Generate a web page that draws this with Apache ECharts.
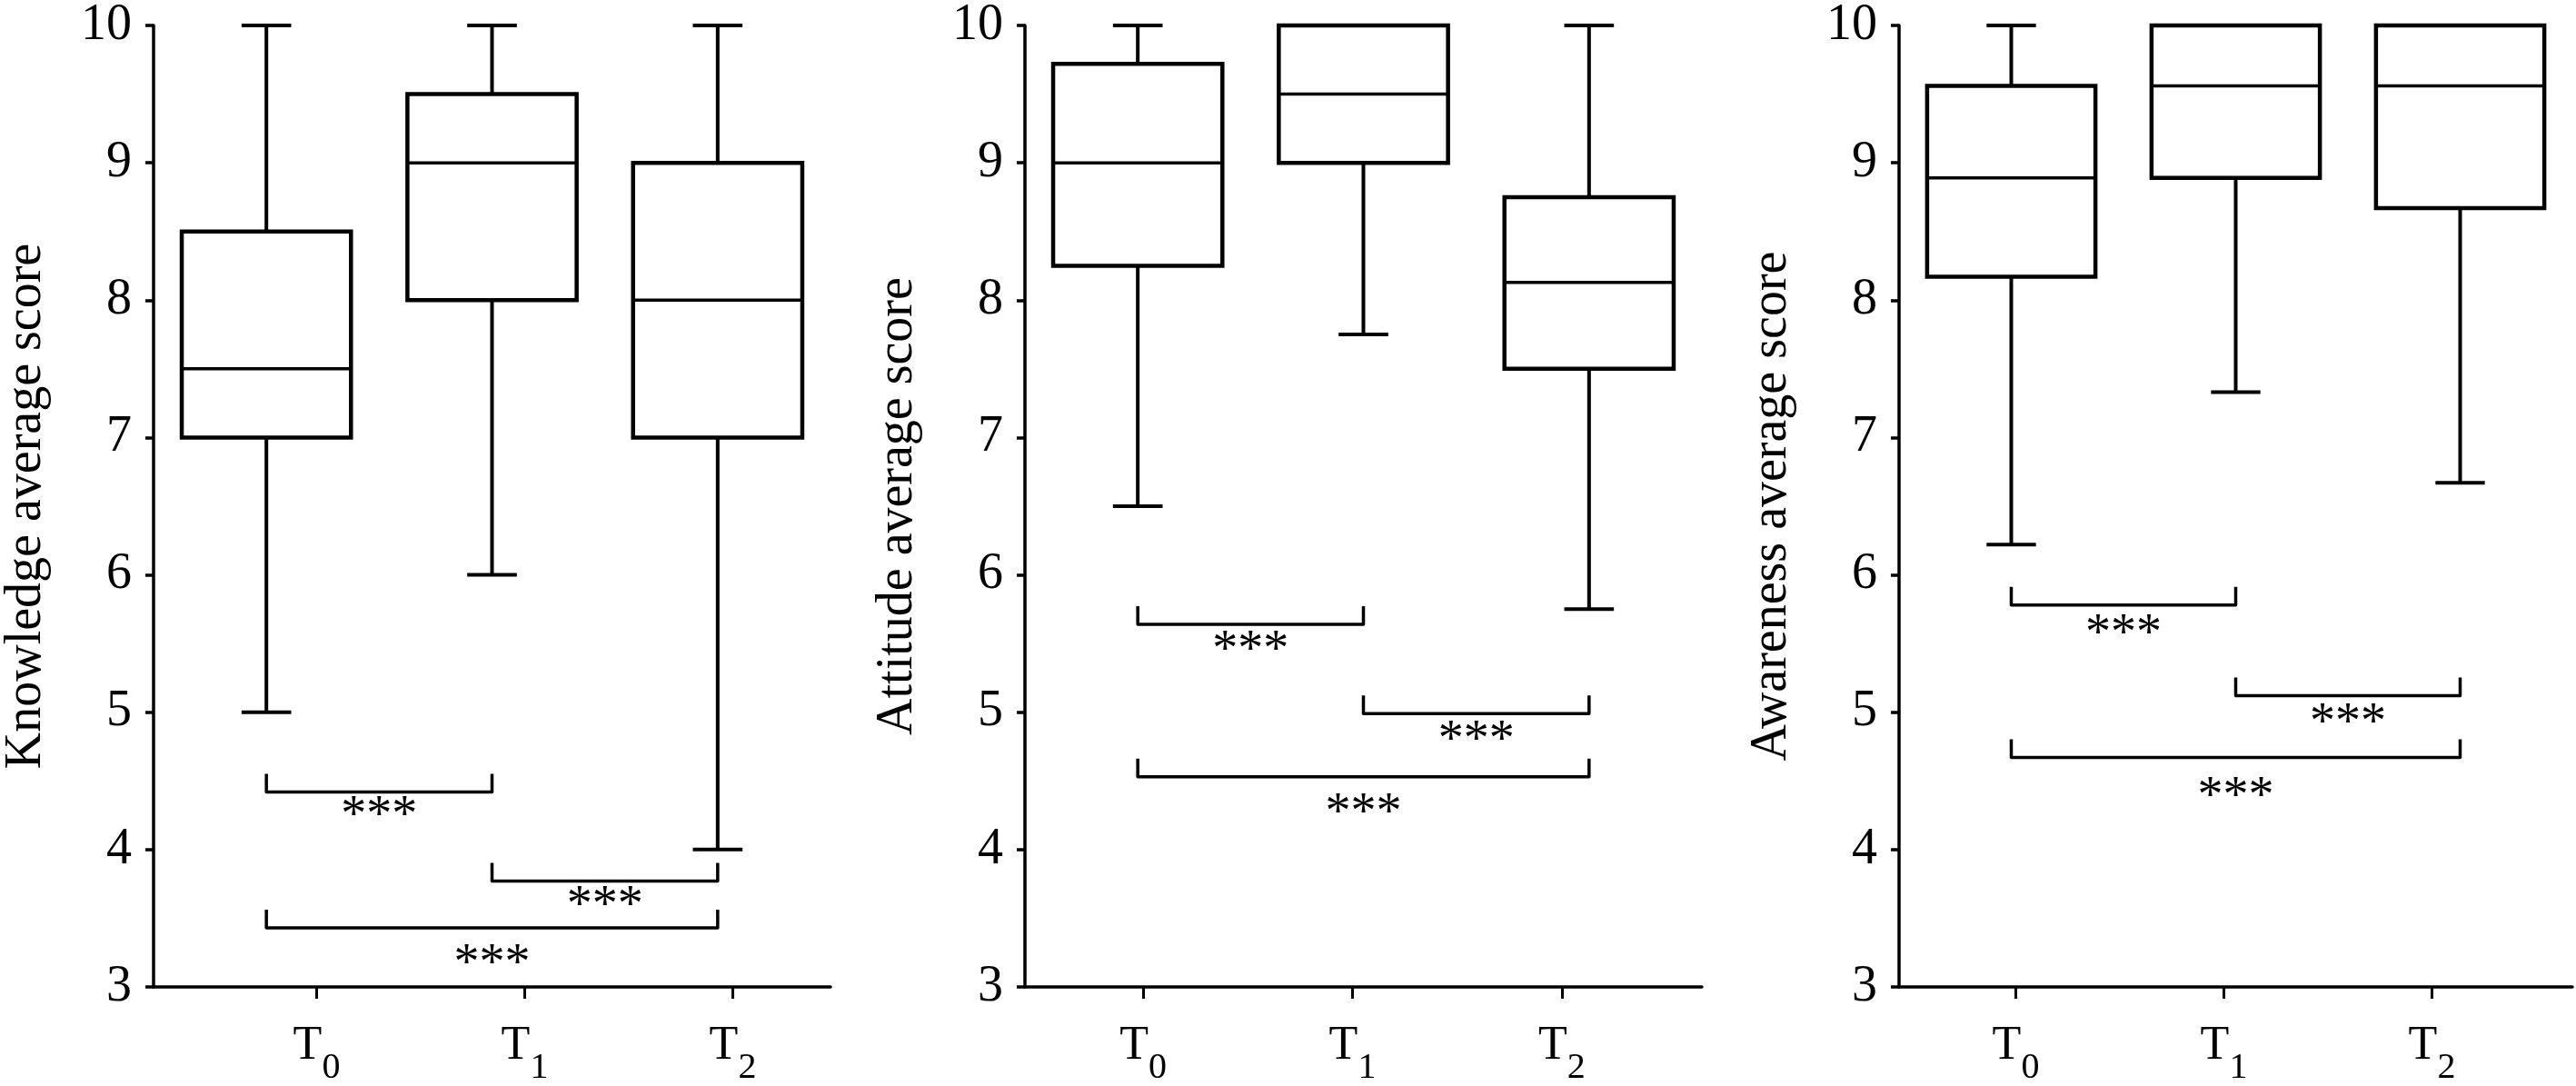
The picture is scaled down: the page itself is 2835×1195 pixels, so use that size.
<!DOCTYPE html>
<html>
<head>
<meta charset="utf-8">
<script src="https://cdn.jsdelivr.net/npm/echarts@6/dist/echarts.min.js"></script>
<style>
  html, body { margin: 0; padding: 0; background: #fff; }
  #chart { width: 2835px; height: 1195px; }
</style>
</head>
<body>
<div id="chart"></div>
<script>
// time points
const groups = ["T0", "T1", "T2"];
const yTicks = [3, 4, 5, 6, 7, 8, 9, 10];

// box stats per time point: [min, q1, median, q3, max]
const knowledge = [[5, 7, 7.5, 8.5, 10], [6, 8, 9, 9.5, 10], [4, 7, 8, 9, 10]];
const attitude = [[6.5, 8.25, 9, 9.72, 10], [7.75, 9, 9.5, 10, 10], [5.75, 7.5, 8.13, 8.75, 10]];
const awareness = [[6.22, 8.17, 8.89, 9.56, 10], [7.33, 8.89, 9.56, 10, 10], [6.67, 8.67, 9.56, 10, 10]];

// significance brackets: [from, to, bracket level, star level]
const knowledgeSig = [[0, 1, 4.42, 4.29], [1, 2, 3.77, 3.63], [0, 2, 3.43, 3.21]];
const attitudeSig = [[0, 1, 5.64, 5.49], [1, 2, 4.99, 4.84], [0, 2, 4.53, 4.31]];
const awarenessSig = [[0, 1, 5.78, 5.61], [1, 2, 5.12, 4.96], [0, 2, 4.67, 4.43]];
const sigLabel = "***";

const panelNames = ["Knowledge average score", "Attitude average score", "Awareness average score"];

const FONT = "'Liberation Serif', 'Times New Roman', Times, serif";
const INK = "#000";

const panels = [
    { name: panelNames[0], stats: knowledge, sig: knowledgeSig, grid: { left: 169, width: 745 }, tickGrid: { left: 234, width: 687 } },
    { name: panelNames[1], stats: attitude, sig: attitudeSig, grid: { left: 1128, width: 745 }, tickGrid: { left: 1143, width: 691 } },
    { name: panelNames[2], stats: awareness, sig: awarenessSig, grid: { left: 2090, width: 741 }, tickGrid: { left: 2104, width: 687 } }
];

function line(x1, y1, x2, y2, w) {
    return { type: "line", shape: { x1, y1, x2, y2 }, style: { stroke: INK, lineWidth: w, lineCap: "butt" } };
}

function renderBox(params, api) {
    const cat = api.value(0);
    const lo = api.coord([cat, api.value(1)]);
    const q1 = api.coord([cat, api.value(2)]);
    const med = api.coord([cat, api.value(3)]);
    const q3 = api.coord([cat, api.value(4)]);
    const hi = api.coord([cat, api.value(5)]);
    const band = api.size([1, 0])[0];
    const half = band * 0.375;
    const cap = band * 0.11;
    const cx = q1[0];
    return {
        type: "group",
        children: [
            line(cx, q3[1], cx, hi[1], 4),
            line(cx - cap, hi[1], cx + cap, hi[1], 4),
            line(cx, q1[1], cx, lo[1], 4),
            line(cx - cap, lo[1], cx + cap, lo[1], 4),
            {
                type: "rect",
                shape: { x: cx - half, y: q3[1], width: half * 2, height: q1[1] - q3[1] },
                style: { fill: "#fff", stroke: INK, lineWidth: 4.5 }
            },
            line(cx - half, med[1], cx + half, med[1], 3.5)
        ]
    };
}

function renderBracket(params, api) {
    const a = api.coord([api.value(0), api.value(2)]);
    const b = api.coord([api.value(1), api.value(2)]);
    const s = api.coord([api.value(0), api.value(3)]);
    const tip = 20;
    return {
        type: "group",
        children: [
            {
                type: "polyline",
                shape: { points: [[a[0], a[1] - tip], [a[0], a[1]], [b[0], b[1]], [b[0], b[1] - tip]] },
                style: { stroke: INK, lineWidth: 3.5, fill: "none", lineJoin: "round" }
            },
            {
                type: "text",
                style: {
                    text: sigLabel,
                    x: (a[0] + b[0]) / 2,
                    y: s[1] + 8,
                    align: "center",
                    verticalAlign: "middle",
                    fontSize: 56,
                    fontFamily: FONT,
                    fill: INK
                }
            }
        ]
    };
}

const grid = [];
const xAxis = [];
const yAxis = [];
const series = [];

panels.forEach((p, i) => {
    grid.push({ left: p.grid.left, width: p.grid.width, top: 27, height: 1059 });
    xAxis.push({
        type: "category",
        gridIndex: i,
        data: groups,
        axisLine: { onZero: false, lineStyle: { color: INK, width: 3.5 } },
        axisTick: { show: false },
        axisLabel: { show: false },
        splitLine: { show: false }
    });
    yAxis.push({
        type: "value",
        gridIndex: i,
        min: yTicks[0],
        max: yTicks[yTicks.length - 1],
        interval: 1,
        name: p.name,
        nameLocation: "middle",
        nameGap: 112,
        nameTextStyle: { fontFamily: FONT, fontSize: 56, color: INK },
        axisLine: { show: true, lineStyle: { color: INK, width: 3.5 } },
        axisTick: { show: true, length: 9, lineStyle: { color: INK, width: 3.5 } },
        axisLabel: { fontFamily: FONT, fontSize: 56, color: INK, margin: 24 },
        splitLine: { show: false }
    });
    series.push({
        type: "custom",
        xAxisIndex: i,
        yAxisIndex: i,
        renderItem: renderBox,
        encode: { x: 0, y: [1, 2, 3, 4, 5] },
        data: p.stats.map((s, k) => [k, ...s]),
        z: 2
    });
    series.push({
        type: "custom",
        xAxisIndex: i,
        yAxisIndex: i,
        renderItem: renderBracket,
        encode: { x: [0, 1], y: [2, 3] },
        data: p.sig,
        z: 3
    });
});

// tick marks and time-point labels sit on their own axis, as in the original figure
panels.forEach((p, i) => {
    const gi = panels.length + i;
    grid.push({ left: p.tickGrid.left, width: p.tickGrid.width, top: 27, height: 1059 });
    xAxis.push({
        type: "category",
        gridIndex: gi,
        data: groups,
        axisLine: { show: false, onZero: false },
        axisTick: { show: true, alignWithLabel: true, length: 14, lineStyle: { color: INK, width: 3 } },
        axisLabel: {
            margin: 40,
            formatter: (v) => `{t|${v.charAt(0)}}{s|${v.slice(1)}}`,
            rich: {
                t: { fontFamily: FONT, fontSize: 52, color: INK, lineHeight: 56, verticalAlign: "top" },
                s: { fontFamily: FONT, fontSize: 40, color: INK, lineHeight: 70, verticalAlign: "bottom" }
            }
        },
        splitLine: { show: false }
    });
    yAxis.push({ type: "value", gridIndex: gi, show: false, min: yTicks[0], max: yTicks[yTicks.length - 1] });
});

const chart = echarts.init(document.getElementById("chart"), null, { renderer: "canvas" });
chart.setOption({
    backgroundColor: "#fff",
    animation: false,
    grid,
    xAxis,
    yAxis,
    series
});
window.addEventListener("resize", () => chart.resize());
</script>
</body>
</html>
